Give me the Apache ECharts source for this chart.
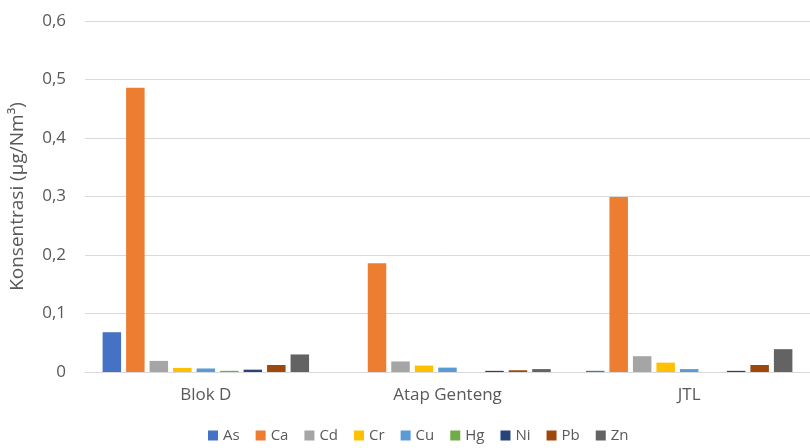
<!DOCTYPE html>
<html>
<head>
<meta charset="utf-8">
<script src="https://cdn.jsdelivr.net/npm/echarts@6/dist/echarts.min.js"></script>
<style>html,body{margin:0;padding:0;background:#fff;}#c{width:810px;height:448px;}</style>
</head>
<body>
<div id="c"></div>
<script>
const categories = ['Blok D', 'Atap Genteng', 'JTL'];
const seriesNames = ['As', 'Ca', 'Cd', 'Cr', 'Cu', 'Hg', 'Ni', 'Pb', 'Zn'];
const As = [0.068, 0, 0.002];
const Ca = [0.486, 0.186, 0.299];
const Cd = [0.019, 0.018, 0.027];
const Cr = [0.007, 0.011, 0.016];
const Cu = [0.006, 0.0075, 0.005];
const Hg = [0.002, 0, 0];
const Ni = [0.004, 0.002, 0.002];
const Pb = [0.012, 0.003, 0.012];
const Zn = [0.030, 0.005, 0.039];
const yTicks = [0, 0.1, 0.2, 0.3, 0.4, 0.5, 0.6];
const colors = ['#4472C4', '#ED7D31', '#A5A5A5', '#FFC000', '#5B9BD5', '#70AD47', '#264478', '#9E480E', '#636363'];
const values = [As, Ca, Cd, Cr, Cu, Hg, Ni, Pb, Zn];

const font = 'Open Sans';
const chart = echarts.init(document.getElementById('c'));
chart.setOption({
  animation: false,
  textStyle: { fontFamily: font },
  color: colors,
  grid: { left: 82, top: 21, width: 737, bottom: 76 },
  legend: {
    bottom: 0,
    left: 203,
    itemWidth: 10, itemHeight: 10, itemGap: 16,
    icon: 'rect',
    textStyle: { color: '#595959', fontSize: 15, fontFamily: font }
  },
  xAxis: {
    type: 'category',
    data: categories,
    axisLine: { lineStyle: { color: '#D9D9D9' } },
    axisTick: { show: false },
    axisLabel: { color: '#595959', fontSize: 17, margin: 15, fontFamily: font }
  },
  yAxis: {
    type: 'value',
    min: 0, max: 0.6, interval: 0.1,
    name: 'Konsentrasi (µg/Nm³)',
    nameLocation: 'middle',
    nameGap: 58,
    nameTextStyle: { color: '#595959', fontSize: 19, fontFamily: font },
    axisLine: { show: false },
    axisTick: { show: false },
    splitLine: { lineStyle: { color: '#D9D9D9' } },
    axisLabel: {
      color: '#595959', fontSize: 17, margin: 19, fontFamily: font,
      formatter: v => { const t = yTicks.find(x => Math.abs(x - v) < 1e-9); const n = t === undefined ? v : t; return n === 0 ? '0' : n.toFixed(1).replace('.', ','); }
    }
  },
  series: seriesNames.map((n, i) => ({
    name: n,
    type: 'bar',
    data: values[i],
    barWidth: 18.5,
    barGap: '27%',
    itemStyle: { color: colors[i] }
  }))
});
</script>
</body>
</html>
